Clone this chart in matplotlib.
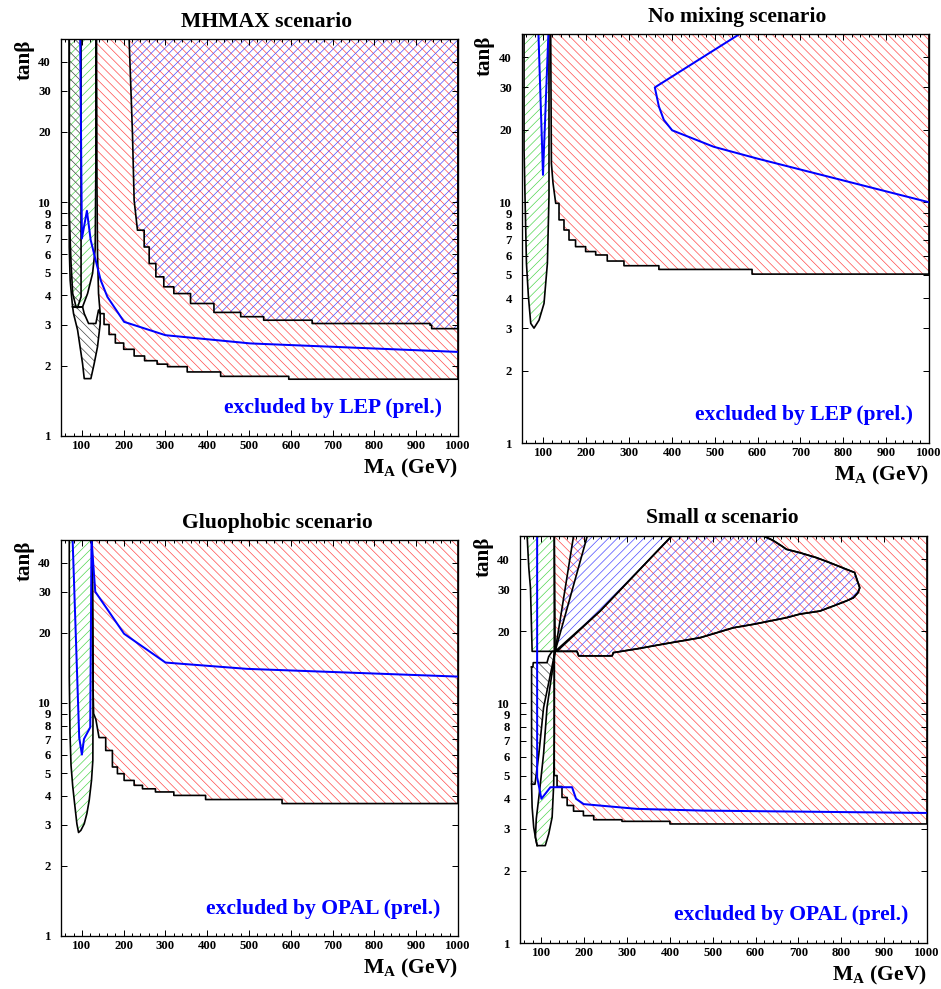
import numpy as np
import matplotlib
matplotlib.use("Agg")
import matplotlib.pyplot as plt
from matplotlib.ticker import FixedLocator, FixedFormatter, MultipleLocator, NullLocator

W, H, DPI = 941, 989, 80

plt.rcParams['font.family'] = ['Liberation Serif', 'DejaVu Serif']
plt.rcParams['font.weight'] = 'bold'
plt.rcParams['mathtext.fontset'] = 'custom'
plt.rcParams['mathtext.rm'] = 'Liberation Serif:bold'
plt.rcParams['mathtext.it'] = 'Liberation Serif:bold'
plt.rcParams['hatch.linewidth'] = 0.6

RED, GREEN, BLUE, GREY = '#ff4646', '#4cd64c', '#4646ff', '#404040'

# axis ticks
x_ticks = [100, 200, 300, 400, 500, 600, 700, 800, 900, 1000]
y_ticks = [1, 2, 3, 4, 5, 6, 7, 8, 9, 10, 20, 30, 40]

# ---------------- MHMAX ----------------
mhmax_green_x = [69.7, 69.7, 74, 78, 86, 101.6, 113.6, 125.5, 131.8, 133.4, 133.4]
mhmax_green_y = [50, 8.9, 5.5, 4.07, 3.57, 3.57, 4.07, 4.96, 6.3, 14.2, 50]
mhmax_black1_x = [69.7, 69.7, 71.9, 75.4, 77.8, 89.7, 98, 98]
mhmax_black1_y = [50, 6.44, 4.64, 3.94, 3.57, 3.55, 3.94, 50]
mhmax_black2_x = [77.8, 80, 89.7, 101.6, 105.6, 121.5, 129.4, 137.4, 143.8, 143.8, 139.8, 133.4, 116, 105.6, 101.6, 89.7]
mhmax_black2_y = [3.57, 3.34, 2.84, 2.04, 1.76, 1.76, 2.04, 2.41, 3.03, 3.34, 3.46, 3.03, 3.03, 3.34, 3.57, 3.55]
mhmax_red_edge_x = [135, 136, 137.4, 139.8]
mhmax_red_edge_y = [50, 12, 6.0, 4.07]
mhmax_red_stair_x = [143.8, 153, 165, 180, 200, 225, 250, 280, 305, 352, 432, 595, 1000]
mhmax_red_stair_y = [3.34, 3.0, 2.72, 2.5, 2.35, 2.2, 2.1, 2.03, 1.98, 1.88, 1.80, 1.75, 1.75]
mhmax_cross_edge_x = [213, 221, 225, 233]
mhmax_cross_edge_y = [50, 19.7, 10.2, 7.6]
mhmax_cross_stair_x = [233, 249, 261, 277, 296, 320, 360, 416, 480, 535, 651, 933, 937, 1000]
mhmax_cross_stair_y = [7.6, 6.44, 5.47, 4.8, 4.35, 4.07, 3.69, 3.38, 3.24, 3.13, 3.03, 2.98, 2.88, 2.88]
mhmax_blue_x = [96, 100, 112, 121, 133, 145, 161, 201, 300, 503, 1000]
mhmax_blue_y = [50, 7.0, 9.2, 6.9, 5.65, 4.64, 3.94, 3.08, 2.70, 2.49, 2.29]

# ---------------- No mixing ----------------
nomix_green_x = [54.8, 54.8, 57, 60.4, 65, 70.4, 78, 89.8, 101.4, 109.3, 113, 113]
nomix_green_y = [50, 16.5, 10.6, 5.58, 4.05, 3.14, 3.0, 3.24, 3.8, 5.58, 10.6, 50]
nomix_red_edge_x = [117, 118.6, 122.4, 128.7]
nomix_red_edge_y = [50, 14.5, 12.0, 9.9]
nomix_red_stair_x = [128.7, 136.4, 148, 159.7, 175, 198.5, 222, 249, 288, 369.5, 587, 1000]
nomix_red_stair_y = [9.9, 8.45, 7.67, 6.97, 6.54, 6.24, 6.04, 5.70, 5.45, 5.26, 5.03, 5.03]
nomix_blue1_x = [88.4, 99, 111.6]
nomix_blue1_y = [50, 13.0, 50]
nomix_blue2_x = [558, 360, 369.5, 381, 400.5, 497.6, 598.5, 1000]
nomix_blue2_y = [50, 30, 25, 22, 19.9, 17, 15.2, 10]

# ---------------- Gluophobic ----------------
gluo_green_x = [69.8, 69.8, 71.5, 74, 78, 81.7, 88, 92, 97.6, 105.6, 111.9, 117.5, 123, 126.2, 127, 124.6]
gluo_green_y = [50, 12.9, 7.4, 5.4, 4.4, 3.82, 3.03, 2.78, 2.84, 3.03, 3.35, 3.82, 4.65, 5.67, 14.2, 50]
gluo_red_edge_x = [124.5, 126.5, 128, 133.4, 141]
gluo_red_edge_y = [50, 12, 9, 8.5, 7.1]
gluo_red_stair_x = [141, 157, 173, 185, 201, 225, 245, 276, 320, 396, 579, 1000]
gluo_red_stair_y = [7.1, 6.25, 5.31, 4.97, 4.65, 4.43, 4.28, 4.15, 4.01, 3.85, 3.70, 3.70]
gluo_blue_x = [77.8, 93.6, 100, 105, 120, 123, 132, 201, 300, 495, 1000]
gluo_blue_y = [50, 7.1, 6.0, 7.0, 7.86, 50, 30, 19.8, 14.9, 14.0, 12.97]

# ---------------- Small alpha ----------------
smalla_green_top_x = [66.7, 70.5, 74.4, 78.3, 132, 130]
smalla_green_top_y = [50, 36.9, 30.4, 16.5, 16.5, 50]
smalla_green_low_x = [132, 113, 105, 95, 88, 86, 90, 109, 117, 125, 128.7, 130, 130]
smalla_green_low_y = [16.5, 9.6, 6.15, 4.2, 3.3, 2.76, 2.55, 2.55, 2.85, 3.35, 4.61, 7.45, 16.5]
smalla_black_x = [77, 80, 81, 113, 117, 125, 132, 105, 94, 85, 77]
smalla_black_y = [14.2, 14.2, 14.8, 14.8, 15.7, 16.5, 16.5, 9.6, 6.15, 4.6, 4.6]
smalla_loop_x = [77, 78.3, 82, 86, 90]
smalla_loop_y = [4.6, 3.69, 3.04, 2.76, 2.55]
smalla_red_edge_x = [130, 130, 207, 132, 237, 404, 1000]
smalla_red_edge_y = [5.4, 50, 50, 16.5, 24.3, 50, 50]
smalla_red_stair_x = [1000, 598, 400, 288, 222, 198, 175, 160, 148, 136.5, 130]
smalla_red_stair_y = [3.14, 3.14, 3.22, 3.27, 3.40, 3.55, 3.75, 4.05, 4.5, 5.0, 5.4]
smalla_cross_x = [404, 618, 640, 661, 672, 703, 742, 773, 812, 831, 835, 843, 839, 828, 812, 781, 750,
                  703, 672, 595, 548, 470, 385, 323, 268, 265, 187, 183, 136, 237]
smalla_cross_y = [50, 50, 48, 45.4, 44, 42.6, 40.6, 38.7, 36.3, 35.2, 33.5, 30.4, 29, 27.6, 26.8, 25.5, 24.3,
                  23.6, 22.8, 21.4, 20.7, 18.8, 17.7, 16.9, 16.3, 15.8, 15.8, 16.5, 16.5, 24.3]
smalla_diag_x = [132, 175]
smalla_diag_y = [16.5, 50]
smalla_blue_x = [90, 90, 100, 121, 171.5, 180.8, 198.6, 323, 478, 1000]
smalla_blue_y = [50, 4.92, 4.0, 4.47, 4.47, 4.0, 3.8, 3.63, 3.57, 3.49]


def stairs(xs, ys):
    sx, sy = [xs[0]], [ys[0]]
    for i in range(1, len(xs)):
        sx += [xs[i], xs[i]]
        sy += [ys[i - 1], ys[i]]
    return sx, sy


def region(ax, x, y, color, hatch, outline=True):
    ax.fill(x, y, facecolor='none', edgecolor=color, hatch=hatch, linewidth=0)
    if outline:
        ax.plot(list(x) + [x[0]], list(y) + [y[0]], color='black', lw=1.5)


def setup_axes(fig, box):
    l, t, r, b = box
    ax = fig.add_axes([l / W, 1 - b / H, (r - l) / W, (b - t) / H])
    ax.set_yscale('log')
    ax.set_xlim(50, 1000)
    ax.set_ylim(1, 50)
    ax.xaxis.set_major_locator(FixedLocator(x_ticks))
    ax.xaxis.set_major_formatter(FixedFormatter([str(v) for v in x_ticks]))
    ax.xaxis.set_minor_locator(MultipleLocator(20))
    ax.yaxis.set_major_locator(FixedLocator(y_ticks))
    ax.yaxis.set_major_formatter(FixedFormatter([str(v) for v in y_ticks]))
    ax.yaxis.set_minor_locator(NullLocator())
    ax.tick_params(which='both', direction='in', top=True, right=True, width=0.9)
    ax.tick_params(which='major', length=5.5, labelsize=11.5)
    ax.tick_params(which='minor', length=3)
    ax.tick_params(axis='x', pad=4)
    ax.tick_params(axis='y', pad=9)
    for lab in ax.get_xticklabels() + ax.get_yticklabels():
        lab.set_fontweight('bold')
    for s in ax.spines.values():
        s.set_linewidth(1.2)
    return ax


def labels(fig, box, title, tpos, note, npos, ypos):
    l, t, r, b = box
    fig.text(tpos[0] / W, 1 - tpos[1] / H, title, ha='center', va='baseline', fontsize=19.5, fontweight='bold')
    fig.text(npos[0] / W, 1 - npos[1] / H, note, ha='right', va='baseline', fontsize=19.5,
             fontweight='bold', color='#0000ff')
    fig.text(r / W, 1 - (b + 37) / H, r'M$_{\mathrm{A}}$ (GeV)', ha='right', va='baseline',
             fontsize=19.5, fontweight='bold')
    fig.text(ypos[0] / W, 1 - ypos[1] / H, 'tanβ', rotation=90, ha='center', va='center',
             fontsize=19, fontweight='bold')


fig = plt.figure(figsize=(W / DPI, H / DPI), dpi=DPI)

boxes = [(61, 39, 458, 436), (522, 34, 929, 443), (61, 540, 458, 936), (520, 536, 927, 943)]
RH, LH = '\\\\\\', '///'

# MHMAX
ax = setup_axes(fig, boxes[0])
sx, sy = stairs(mhmax_red_stair_x, mhmax_red_stair_y)
region(ax, mhmax_red_edge_x + sx + [1000], mhmax_red_edge_y + sy + [50], RED, RH)
sx, sy = stairs(mhmax_cross_stair_x, mhmax_cross_stair_y)
region(ax, mhmax_cross_edge_x + sx + [1000], mhmax_cross_edge_y + sy + [50], BLUE, LH)
region(ax, mhmax_green_x, mhmax_green_y, GREEN, LH)
region(ax, mhmax_black1_x, mhmax_black1_y, GREY, RH)
region(ax, mhmax_black2_x, mhmax_black2_y, GREY, RH)
ax.plot(mhmax_blue_x, mhmax_blue_y, color='#0000ff', lw=1.8)
labels(fig, boxes[0], 'MHMAX scenario', (267, 27), 'excluded by LEP (prel.)', (442, 413), (25, 60))

# No mixing
ax = setup_axes(fig, boxes[1])
sx, sy = stairs(nomix_red_stair_x, nomix_red_stair_y)
region(ax, nomix_red_edge_x + sx + [1000], nomix_red_edge_y + sy + [50], RED, RH)
region(ax, nomix_green_x, nomix_green_y, GREEN, LH)
ax.plot(nomix_blue1_x, nomix_blue1_y, color='#0000ff', lw=1.8)
ax.plot(nomix_blue2_x, nomix_blue2_y, color='#0000ff', lw=1.8)
labels(fig, boxes[1], 'No mixing scenario', (737, 22), 'excluded by LEP (prel.)', (913, 420), (485, 56))

# Gluophobic
ax = setup_axes(fig, boxes[2])
sx, sy = stairs(gluo_red_stair_x, gluo_red_stair_y)
region(ax, gluo_red_edge_x + sx + [1000], gluo_red_edge_y + sy + [50], RED, RH)
region(ax, gluo_green_x, gluo_green_y, GREEN, LH)
ax.plot(gluo_blue_x, gluo_blue_y, color='#0000ff', lw=1.8)
labels(fig, boxes[2], 'Gluophobic scenario', (277, 528), 'excluded by OPAL (prel.)', (440, 914), (25, 561))

# Small alpha
ax = setup_axes(fig, boxes[3])
sx, sy = stairs(smalla_red_stair_x, smalla_red_stair_y)
region(ax, smalla_red_edge_x + sx, smalla_red_edge_y + sy, RED, RH)
blue_x = smalla_diag_x + smalla_cross_x[1:-1]
blue_y = smalla_diag_y + smalla_cross_y[1:-1]
region(ax, blue_x, blue_y, BLUE, LH)
region(ax, smalla_cross_x, smalla_cross_y, BLUE, '')
region(ax, smalla_green_top_x, smalla_green_top_y, GREEN, LH)
region(ax, smalla_green_low_x, smalla_green_low_y, GREEN, LH)
region(ax, smalla_black_x, smalla_black_y, GREY, RH)
ax.plot(smalla_loop_x, smalla_loop_y, color='black', lw=1.5)
ax.plot(smalla_blue_x, smalla_blue_y, color='#0000ff', lw=1.8)
labels(fig, boxes[3], 'Small α scenario', (722, 523), 'excluded by OPAL (prel.)', (908, 920), (484, 557))

fig.savefig('out.png', dpi=DPI)
